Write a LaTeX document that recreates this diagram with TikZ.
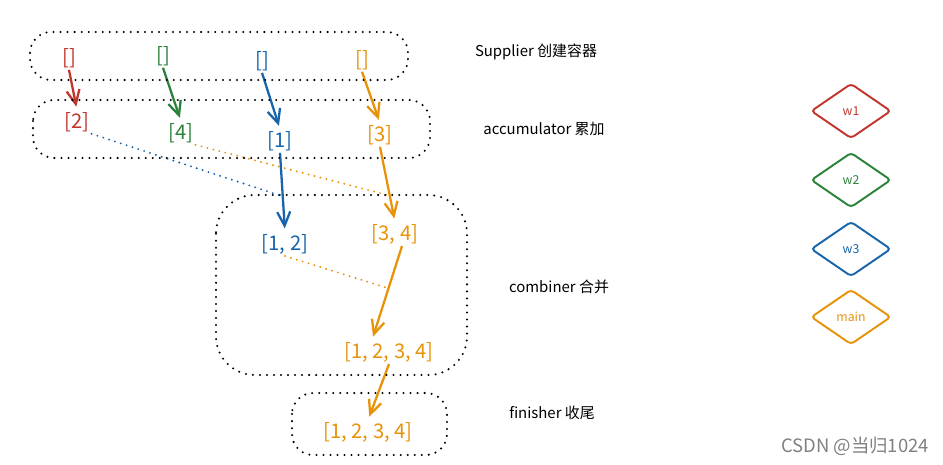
\documentclass[tikz,border=0pt]{standalone}
\usepackage{fontspec}
\setmainfont{Noto Sans CJK SC}
\usetikzlibrary{positioning}
\usetikzlibrary{shapes.geometric}
\usetikzlibrary{arrows.meta}
\definecolor{wred}{RGB}{192,54,44}
\definecolor{wgreen}{RGB}{43,130,58}
\definecolor{wblue}{RGB}{24,100,171}
\definecolor{worange}{RGB}{232,146,10}
\begin{document}
\begin{tikzpicture}[x=0.02cm, y=-0.02cm,
  val/.style={inner sep=1pt, font=\fontsize{11.5}{13}\selectfont},
  flow/.style={-{Straight Barb[length=2.8mm,width=2.6mm]}, line width=1.3pt, shorten >=2pt},
  link/.style={line width=1.2pt, dash pattern=on 0pt off 3.5pt, line cap=round},
  stage/.style={black, line width=1.3pt, dash pattern=on 0pt off 4pt, line cap=round, rounded corners=12pt},
  worker/.style={draw, diamond, line width=1.1pt, minimum width=1.6cm, minimum height=1.1cm, inner sep=0pt, rounded corners=2pt, font=\fontsize{7}{8}\selectfont},
  caption/.style={font=\fontsize{8.5}{10}\selectfont}]
\useasboundingbox (0,0) rectangle (943,464);
% supplier
\node[val, wred] (s1) at (69,58) {[]};
\node[val, wgreen] (s2) at (163,56) {[]};
\node[val, wblue] (s3) at (262,61) {[]};
\node[val, worange] (s4) at (362,60) {[]};
% accumulator
\node[val, wred] (a1) at (77,122) {[2]};
\node[val, wgreen] (a2) at (181,133) {[4]};
\node[val, wblue] (a3) at (280,141) {[1]};
\node[val, worange] (a4) at (380,135) {[3]};
\draw[flow, wred] (s1.south) -- (a1.north);
\draw[flow, wgreen] (s2.south) -- (a2.north);
\draw[flow, wblue] (s3.south) -- (a3.north);
\draw[flow, worange] (s4.south) -- (a4.north);
% combiner
\node[val, wblue] (c1) at (285,244) {[1, 2]};
\node[val, worange] (c2) at (395,234) {[3, 4]};
\node[val, worange] (c3) at (389,352) {[1, 2, 3, 4]};
\draw[flow, wblue] (a3.south) -- (c1.north) coordinate[pos=0.55] (j1);
\draw[flow, worange] (a4.south) -- (c2.north) coordinate[pos=0.65] (j2);
\draw[flow, worange] ([xshift=0.14cm]c2.south) -- ([xshift=-0.34cm]c3.north) coordinate[pos=0.45] (j3);
\draw[link, wblue] (a1.south east) -- (j1);
\draw[link, worange] (a2.south east) -- (j2);
\draw[link, worange] (c1.south) -- (j3);
% finisher
\node[val, worange] (f1) at (368,432) {[1, 2, 3, 4]};
\draw[flow, worange] (c3.south) -- (f1.north);
% stages
\draw[stage] (30,32) rectangle (408,80);
\node[caption] (l1) at (536,52) {Supplier 创建容器};
\draw[stage] (33,100) rectangle (430,158);
\node[caption] (l2) at (544,129) {accumulator 累加};
\draw[stage, rounded corners=22pt] (216,195) rectangle (467,375);
\node[caption] (l3) at (559,287) {combiner 合并};
\draw[stage] (292,393) rectangle (447,455);
\node[caption] (l4) at (552,413) {finisher 收尾};
% workers
\node[worker, wred] (w1) at (851,111) {w1};
\node[worker, wgreen] (w2) at (851,180) {w2};
\node[worker, wblue] (w3) at (851,249) {w3};
\node[worker, worange] (wm) at (851,317) {main};
\node[gray, font=\fontsize{10.5}{12}\selectfont] (mark) at (855,446) {CSDN @当归1024};
\end{tikzpicture}
\end{document}
